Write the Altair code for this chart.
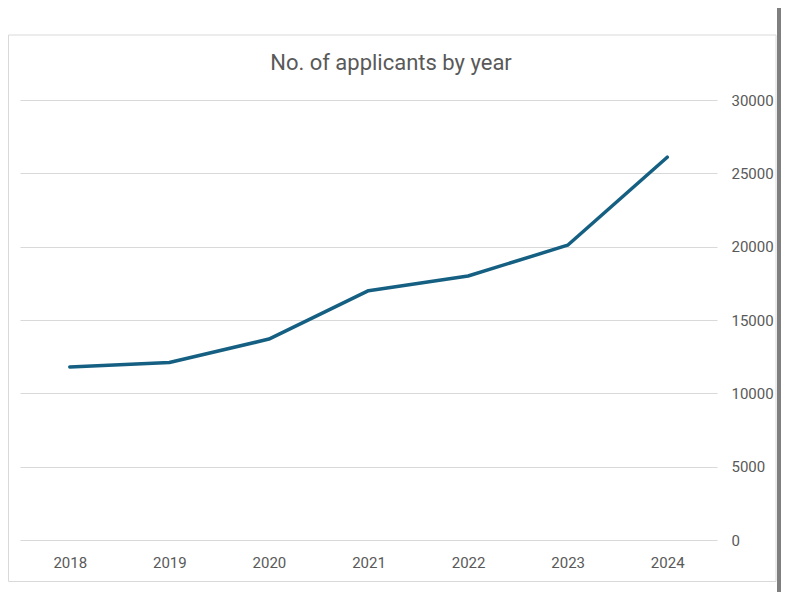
import altair as alt
import pandas as pd

years = ["2018", "2019", "2020", "2021", "2022", "2023", "2024"]
applicants = [11800, 12100, 13700, 17000, 18000, 20100, 26100]
y_ticks = [0, 5000, 10000, 15000, 20000, 25000, 30000]
title_text = "No. of applicants by year"

df = pd.DataFrame({"year": years, "applicants": applicants})
one = pd.DataFrame({"a": [0]})

FONT = "Roboto"
GREY = "#595959"

box = alt.Chart(one).mark_rect(fill="white", fillOpacity=0, stroke="#d9d9d9", strokeWidth=1).encode(
    x=alt.value(-11.5), x2=alt.value(756), y=alt.value(-65), y2=alt.value(481.5)
)

title = alt.Chart(one).mark_text(
    text=title_text, font=FONT, fontSize=22, color=GREY, align="center", baseline="middle"
).encode(x=alt.value(371), y=alt.value(-37.5))

line = alt.Chart(df).mark_line(color="#156082", strokeWidth=3.5, strokeCap="round", strokeJoin="round").encode(
    x=alt.X("year:O", sort=years,
            scale=alt.Scale(type="point", padding=0.5),
            axis=alt.Axis(title=None, labelAngle=0, ticks=False, domain=False, grid=False,
                          labelPadding=15, labelFontSize=15, labelColor=GREY, labelFont=FONT)),
    y=alt.Y("applicants:Q",
            scale=alt.Scale(domain=[0, 30000], nice=False),
            axis=alt.Axis(orient="right", title=None, values=y_ticks, ticks=False, domain=False,
                          labelPadding=14, labelFontSize=15, labelColor=GREY, labelFont=FONT,
                          gridColor="#d9d9d9", gridWidth=1, format="d")),
)

bar = alt.Chart(one).mark_rule(color="#7f7f7f", strokeWidth=4).encode(
    x=alt.value(759), y=alt.value(-92), y2=alt.value(492)
)

chart = alt.layer(box, title, line, bar).properties(
    width=697,
    height=440,
    autosize=alt.AutoSizeParams(type="none"),
    padding={"left": 12, "top": 92, "right": 64, "bottom": 52},
).configure_view(strokeWidth=0)

chart.save("out.html", embed_options={"renderer": "svg", "actions": False})
